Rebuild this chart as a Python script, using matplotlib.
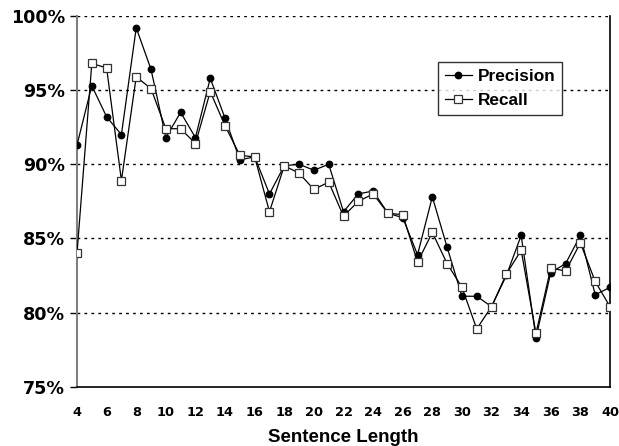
import matplotlib
matplotlib.use("Agg")
import matplotlib.pyplot as plt

plt.rcParams['font.family'] = ['Liberation Sans', 'DejaVu Sans']

lengths = list(range(4, 41))
precision = [91.3, 95.3, 93.2, 92.0, 99.2, 96.4, 91.8, 93.5, 91.8, 95.8,
             93.1, 90.3, 90.5, 88.0, 89.9, 90.0, 89.6, 90.0, 86.8, 88.0,
             88.2, 86.7, 86.4, 83.9, 87.8, 84.4, 81.1, 81.1, 80.4, 82.5,
             85.2, 78.3, 82.7, 83.3, 85.2, 81.2, 81.7]
recall = [84.0, 96.8, 96.5, 88.9, 95.9, 95.1, 92.4, 92.4, 91.4, 94.9,
          92.6, 90.6, 90.5, 86.8, 89.9, 89.4, 88.3, 88.8, 86.5, 87.5,
          88.0, 86.7, 86.6, 83.4, 85.4, 83.3, 81.7, 78.9, 80.4, 82.6,
          84.2, 78.6, 83.0, 82.8, 84.7, 82.1, 80.4]
xticks = list(range(4, 41, 2))
yticks = [75, 80, 85, 90, 95, 100]

fig = plt.figure(figsize=(6.19, 4.46), dpi=100)
ax = fig.add_axes([77/619, 1-386.7/446, (610-77)/619, (386.7-16)/446])

ax.plot(lengths, precision, color='black', lw=0.9, marker='o', ms=4.6,
        mfc='black', mec='black', label='Precision', zorder=3)
ax.plot(lengths, recall, color='black', lw=0.9, marker='s', ms=5.2,
        mfc='white', mec='#333333', mew=0.9, label='Recall', zorder=4)

ax.set_xlim(4, 40)
ax.set_ylim(75, 100)
ax.set_yticks(yticks)
ax.set_yticklabels([f"{v}%" for v in yticks], fontsize=12.6, fontweight='bold',
                   family='DejaVu Sans')
ax.set_xticks(xticks)
ax.set_xticklabels([str(v) for v in xticks], fontsize=9.3, fontweight='bold',
                   family='DejaVu Sans')
ax.tick_params(axis='x', length=0, pad=14)
ax.tick_params(axis='y', length=5, width=1, direction='out', pad=3.6, color='black')

for v in yticks[1:]:
    ax.axhline(v, color='black', lw=1, ls=(0, (2, 3)), zorder=1)

ax.spines['top'].set_visible(False)
ax.spines['left'].set_color('#808080')
ax.spines['left'].set_linewidth(1.5)
ax.spines['bottom'].set_color('black')
ax.spines['bottom'].set_linewidth(1.2)
ax.spines['right'].set_color('black')
ax.spines['right'].set_linewidth(1.2)

ax.set_xlabel('Sentence Length', fontsize=13.5, fontweight='bold', labelpad=7)

leg = ax.legend(loc='upper left', bbox_to_anchor=((438-77)/533, 1-(62-16)/370.7),
                frameon=True, fancybox=False, edgecolor='black',
                prop={'weight': 'bold', 'size': 12.4}, handlelength=1.55,
                handletextpad=0.35, borderpad=0.4, labelspacing=0.55,
                borderaxespad=0)
leg.get_frame().set_linewidth(1.0)

fig.savefig('out.png', dpi=100)
